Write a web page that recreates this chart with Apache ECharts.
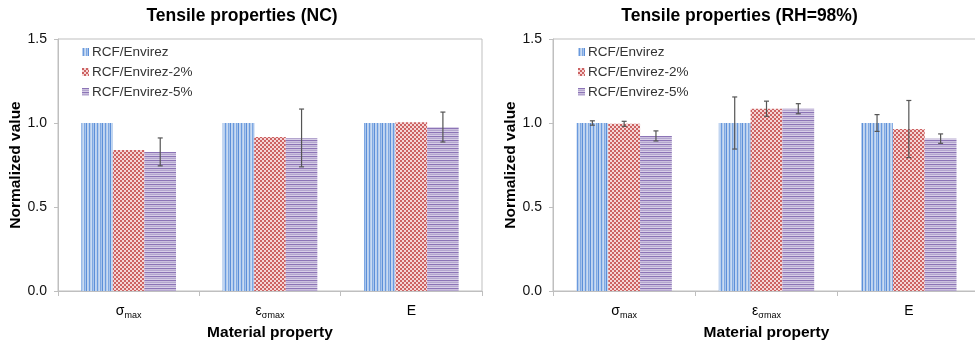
<!DOCTYPE html>
<html><head><meta charset="utf-8">
<script src="https://cdn.jsdelivr.net/npm/echarts@6/dist/echarts.min.js"></script>
<style>html,body{margin:0;padding:0;background:#fff}#c{width:975px;height:342px}</style>
</head><body><div id="c"></div>
<script>
// ---- data ----
const categories = ['{a|σ}{b|max}', '{a|ε}{b|σmax}', '{a|E}'];
const seriesNames = ['RCF/Envirez', 'RCF/Envirez-2%', 'RCF/Envirez-5%'];
const titles = ['Tensile properties (NC)', 'Tensile properties (RH=98%)'];
const yTicks = [0, 0.5, 1.0, 1.5];

const ncEnvirez = [1.0, 1.0, 1.0];
const ncEnvirez2 = [0.84, 0.917, 1.005];
const ncEnvirez5 = [0.828, 0.911, 0.976];
const ncErrEnvirez = [0, 0, 0];
const ncErrEnvirez2 = [0, 0, 0];
const ncErrEnvirez5 = [0.083, 0.172, 0.089];

const rhEnvirez = [1.0, 1.0, 1.0];
const rhEnvirez2 = [0.995, 1.085, 0.964];
const rhEnvirez5 = [0.923, 1.085, 0.907];
const rhErrEnvirez = [0.013, 0.155, 0.05];
const rhErrEnvirez2 = [0.015, 0.045, 0.17];
const rhErrEnvirez5 = [0.03, 0.03, 0.028];

// ---- patterns ----
function pat(w, h, draw) {
  const c = document.createElement('canvas'); c.width = w; c.height = h;
  draw(c.getContext('2d')); return { image: c, repeat: 'repeat' };
}
const bluePat = pat(8, 1, g => {
  const cols = ['#b8cfee', '#6a9ade', '#b4ccec', '#c9dbf3', '#7ea8e2', '#a9c5ec', '#5c8fd8', '#c2d6f1'];
  cols.forEach((c, i) => { g.fillStyle = c; g.fillRect(i, 0, 1, 1); });
});
const redPat = pat(4, 4, g => {
  g.fillStyle = '#f5d6d6'; g.fillRect(0, 0, 4, 4);
  g.fillStyle = '#cc6262'; g.fillRect(0, 0, 2, 2); g.fillRect(2, 2, 2, 2);
});
const purplePat = pat(1, 4, g => {
  const rows = ['#8c74b6', '#cbc0de', '#b3a5ce', '#d8cfe7'];
  rows.forEach((c, i) => { g.fillStyle = c; g.fillRect(0, i, 1, 1); });
});
const pats = [bluePat, redPat, purplePat];

const ncVals = [ncEnvirez, ncEnvirez2, ncEnvirez5];
const ncErrs = [ncErrEnvirez, ncErrEnvirez2, ncErrEnvirez5];
const rhVals = [rhEnvirez, rhEnvirez2, rhEnvirez5];
const rhErrs = [rhErrEnvirez, rhErrEnvirez2, rhErrEnvirez5];

const GAP = 0.33;
const font = 'Liberation Sans';
const axisCol = '#bfbfbf';

function errSeries(vals, errs, gi) {
  const data = [];
  vals.forEach((arr, si) => arr.forEach((v, ci) => data.push([ci, v, errs[si][ci], si])));
  return {
    type: 'custom', xAxisIndex: gi, yAxisIndex: gi, z: 10, silent: true,
    encode: { x: 0, y: 1 }, data,
    renderItem: function (params, api) {
      const ci = api.value(0), v = api.value(1), e = api.value(2), si = api.value(3);
      if (!e) return null;
      const cw = api.size([1, 0])[0];
      const bw = cw * (1 - GAP) / 3;
      const x = api.coord([ci, v])[0] + (si - 1) * bw;
      const yt = api.coord([ci, v + e])[1], yb = api.coord([ci, v - e])[1];
      const st = { stroke: '#555', lineWidth: 1.2 };
      return { type: 'group', children: [
        { type: 'line', shape: { x1: x, y1: yt, x2: x, y2: yb }, style: st },
        { type: 'line', shape: { x1: x - 2.5, y1: yt, x2: x + 2.5, y2: yt }, style: st },
        { type: 'line', shape: { x1: x - 2.5, y1: yb, x2: x + 2.5, y2: yb }, style: st }
      ]};
    }
  };
}

function barSeries(vals, gi) {
  return vals.map((arr, si) => ({
    name: seriesNames[si], type: 'bar', xAxisIndex: gi, yAxisIndex: gi,
    data: arr, barGap: '0%', barCategoryGap: (GAP * 100) + '%',
    itemStyle: { color: pats[si] }
  }));
}

const grids = [
  { left: 58, top: 39, width: 424, height: 252 },
  { left: 553, top: 39, width: 427, height: 252 }
];

const option = {
  animation: false,
  backgroundColor: '#fff',
  textStyle: { fontFamily: font },
  title: titles.map((t, i) => ({
    text: t, left: i === 0 ? 242 : 739.5, top: 7, padding: 0, textAlign: 'center',
    textStyle: { fontFamily: font, fontSize: 17.5, fontWeight: 'bold', color: '#000' }
  })),
  legend: [82, 578].map(l => ({
    data: seriesNames, left: l, top: 45, orient: 'vertical', padding: 0,
    itemWidth: 7, itemHeight: 8, itemGap: 6, icon: 'rect',
    textStyle: { fontFamily: font, fontSize: 13.5, color: '#333', padding: [0, 0, 0, -2] },
    selectedMode: false
  })),
  grid: grids.map(g => Object.assign({
    show: true, borderColor: axisCol, borderWidth: 1, backgroundColor: 'transparent',
    containLabel: false, outerBoundsMode: 'none'
  }, g)),
  xAxis: [0, 1].map(gi => ({
    type: 'category', gridIndex: gi, data: categories,
    axisLine: { lineStyle: { color: axisCol } },
    axisTick: { show: true, length: 5, lineStyle: { color: axisCol } },
    axisLabel: {
      margin: 10, color: '#000', fontFamily: font,
      rich: {
        a: { fontSize: 14, fontFamily: font, color: '#000', verticalAlign: 'bottom', lineHeight: 17 },
        b: { fontSize: 9, fontFamily: font, color: '#000', verticalAlign: 'bottom', lineHeight: 17, padding: [0, 0, -2, 0] }
      }
    },
    name: 'Material property', nameLocation: 'middle', nameGap: 22,
    nameTextStyle: { fontFamily: font, fontSize: 15.5, fontWeight: 'bold', color: '#000' }
  })),
  yAxis: [0, 1].map(gi => ({
    type: 'value', gridIndex: gi, min: yTicks[0], max: yTicks[yTicks.length - 1], interval: 0.5,
    splitLine: { show: false },
    axisLine: { show: true, lineStyle: { color: axisCol } },
    axisTick: { show: true, length: 4, lineStyle: { color: axisCol } },
    axisLabel: { formatter: v => v.toFixed(1), fontSize: 14, color: '#111', fontFamily: font, margin: 11 },
    name: 'Normalized value', nameLocation: 'middle', nameGap: 34, nameRotate: 90,
    nameTextStyle: { fontFamily: font, fontSize: 15.5, fontWeight: 'bold', color: '#000' }
  })),
  series: [].concat(
    barSeries(ncVals, 0), barSeries(rhVals, 1),
    [errSeries(ncVals, ncErrs, 0), errSeries(rhVals, rhErrs, 1)]
  )
};
const chart = echarts.init(document.getElementById('c'), null, { renderer: 'canvas' });
chart.setOption(option);
</script></body></html>
